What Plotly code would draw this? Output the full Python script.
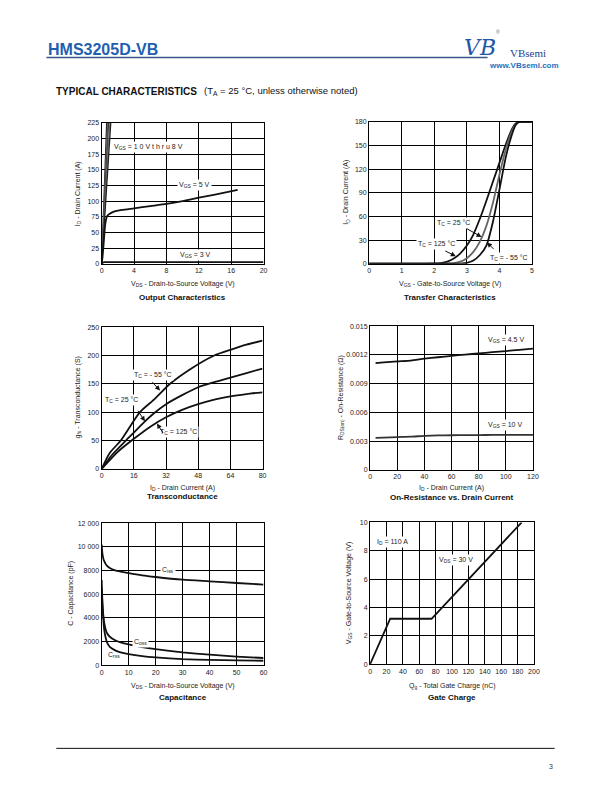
import plotly.graph_objects as go

W, H = 612, 792

# ---------------- data ----------------
# Output characteristics
out_steep_end_vds = [0.62, 0.74, 0.86, 0.98, 1.12]   # VGS = 10 V thru 8 V (reach 225 A)
out_steep_top = 225
out_vds5 = [0, 0.1, 0.2, 0.3, 0.4, 0.5, 0.6, 0.8, 1.0, 1.3, 1.7, 2.5, 4, 6, 8, 10, 12, 14, 16.8]
out_id5 = [0, 10, 25, 42, 58, 68, 74, 78, 80, 82, 84, 86, 88.5, 92, 95.5, 100, 105.5, 110.5, 118]
out_vds3 = [0, 0.3, 20]
out_id3 = [0, 2.5, 2.5]

# Transfer characteristics
tr_vgs = [0, 1, 2, 2.2, 2.4, 2.6, 2.8, 3.0, 3.2, 3.4, 3.6, 3.8, 4.0, 4.2, 4.4, 4.5, 4.6, 4.7, 5]
tr_125 = [0, 0, 0.3, 0.8, 2.5, 6.5, 13, 23, 37, 57, 80, 104, 128, 152, 172, 178, 180, 180, 180]
tr_25 = [0, 0, 0, 0.1, 0.3, 0.8, 2.5, 7, 15, 28, 48, 77, 113, 146, 170, 177, 180, 180, 180]
tr_m55 = [0, 0, 0, 0, 0, 0.05, 0.2, 1, 4, 11, 23, 53, 94, 136, 166, 176, 180, 180, 180]

# Transconductance
gfs_id_m55 = [0, 4, 9.5, 19, 26, 34, 45, 56, 64, 72, 80]
gfs_m55 = [0, 28, 50, 100, 122, 150, 178, 200, 210, 219, 226]
gfs_id_25 = [0, 5, 12, 16, 21, 26, 32, 40, 48, 56, 64, 72, 80]
gfs_25 = [0, 24, 50, 64, 82, 98, 114, 130, 144, 153, 161, 169, 177]
gfs_id_125 = [0, 8, 16, 24, 32, 40, 48, 56, 64, 72, 80]
gfs_125 = [0, 30, 53, 74, 91, 104, 114, 122, 128, 132, 135]

# On-resistance vs drain current
ron_id = [4, 10, 20, 30, 40, 50, 60, 70, 80, 90, 100, 110, 120]
ron_45 = [0.01114, 0.01122, 0.01132, 0.01140, 0.01160, 0.01175, 0.01190,
          0.01203, 0.01215, 0.01228, 0.01240, 0.01253, 0.01266]
ron_10 = [0.00334, 0.00337, 0.00342, 0.00346, 0.00355, 0.00359, 0.00361,
          0.00362, 0.00363, 0.00364, 0.00365, 0.00366, 0.00366]

# Capacitance
cap_vds = [0, 0.3, 0.7, 1, 1.5, 2, 3, 5, 7, 10, 15, 20, 30, 40, 50, 60]
cap_ciss = [10200, 9400, 8950, 8780, 8550, 8400, 8220, 8020, 7920, 7790, 7600, 7460, 7230, 7090, 6950, 6820]
cap_coss = [7200, 5200, 4000, 3500, 3000, 2700, 2400, 2100, 1930, 1750, 1520, 1350, 1080, 880, 720, 600]
cap_crss = [6500, 5000, 3600, 2900, 2300, 1900, 1550, 1250, 1080, 930, 760, 650, 510, 440, 400, 370]

# Gate charge
gc_qg = [0, 24.5, 75, 185]
gc_vgs = [0, 3.2, 3.2, 10]

# tick labels
t1x = [0, 4, 8, 12, 16, 20]
t1y = [0, 25, 50, 75, 100, 125, 150, 175, 200, 225]
t2x = [0, 1, 2, 3, 4, 5]
t2y = [0, 30, 60, 90, 120, 150, 180]
t3x = [0, 16, 32, 48, 64, 80]
t3y = [0, 50, 100, 150, 200, 250]
t4x = [0, 20, 40, 60, 80, 100, 120]
t4y = [0, 0.003, 0.006, 0.009, 0.012, 0.015]
t4y_text = ["0", "0.003", "0.006", "0.009", "0.0012", "0.015"]
t5x = [0, 10, 20, 30, 40, 50, 60]
t5y = [0, 2000, 4000, 6000, 8000, 10000, 12000]
t5y_text = ["0", "2000", "4000", "6000", "8000", "10 000", "12 000"]
t6x = [0, 20, 40, 60, 80, 100, 120, 140, 160, 180, 200]
t6y = [0, 2, 4, 6, 8, 10]

# ---------------- helpers ----------------
def px(x, y):
    return x / W, 1 - y / H

FONT = "Liberation Sans, Arial, Helvetica, sans-serif"
TICK = dict(family=FONT, size=7, color="#222")
BLK = "#111"

# plot boxes in pixels (left, right, top, bottom)
boxes = [
    (101, 265, 120, 262),
    (372, 537, 119, 262),
    (101, 264, 326, 469),
    (373, 538, 325, 470),
    (101, 265, 524, 667),
    (373, 539, 523, 666),
]

fig = go.Figure()

def ax_name(i, kind):
    return kind if i == 1 else f"{kind}{i}"

def line(i, x, y, color=BLK, width=1.8, shape="spline"):
    fig.add_trace(go.Scatter(x=x, y=y, mode="lines", line=dict(color=color, width=width, shape=shape,
                                                                  smoothing=0.6),
                             xaxis=ax_name(i, "x"), yaxis=ax_name(i, "y"),
                             showlegend=False, hoverinfo="skip", cliponaxis=True))

# plot 1
for k, xe in enumerate(out_steep_end_vds):
    line(1, [0, xe], [0, out_steep_top], color=["#222", "#666", "#333", "#777", "#222"][k], width=1.3, shape="linear")
line(1, out_vds3, out_id3, width=1.6, shape="linear")
line(1, out_vds5, out_id5)
# plot 2
line(2, tr_vgs, tr_125)
line(2, tr_vgs, tr_25, color="#666")
line(2, tr_vgs, tr_m55)
# plot 3
line(3, gfs_id_m55, gfs_m55)
line(3, gfs_id_25, gfs_25)
line(3, gfs_id_125, gfs_125)
# plot 4
line(4, ron_id, ron_45)
line(4, ron_id, ron_10, color="#333")
# plot 5
line(5, cap_vds, cap_ciss)
line(5, cap_vds, cap_coss)
line(5, cap_vds, cap_crss)
# plot 6
line(6, gc_qg, gc_vgs, shape="linear")

ranges = [
    ((0, 20), (0, 225), t1x, t1y, None),
    ((0, 5), (0, 180), t2x, t2y, None),
    ((0, 80), (0, 250), t3x, t3y, None),
    ((0, 120), (0, 0.015), t4x, t4y, t4y_text),
    ((0, 60), (0, 12000), t5x, t5y, t5y_text),
    ((0, 200), (0, 10), t6x, t6y, None),
]

layout_axes = {}
for i, ((l, r, t, b), (xr, yr, xt, yt, ytt)) in enumerate(zip(boxes, ranges), start=1):
    common = dict(showgrid=True, gridcolor="#000", gridwidth=1, showline=True, linecolor="#000",
                  linewidth=1.3, mirror=True, ticks="", zeroline=False, tickfont=TICK, fixedrange=True)
    xa = dict(common, domain=[l / W, r / W], range=list(xr), tickvals=xt,
              anchor=ax_name(i, "y"))
    ya = dict(common, domain=[1 - b / H, 1 - t / H], range=list(yr), tickvals=yt,
              anchor=ax_name(i, "x"))
    if ytt:
        ya["ticktext"] = ytt
    layout_axes["xaxis" if i == 1 else f"xaxis{i}"] = xa
    layout_axes["yaxis" if i == 1 else f"yaxis{i}"] = ya

fig.update_layout(**layout_axes)

ann = []
def text(x, y, s, size=7, bold=False, color="#222", xanchor="center", angle=0, bg=None, family=FONT):
    px_, py_ = px(x, y)
    if bold:
        s = f"<b>{s}</b>"
    d = dict(x=px_, y=py_, xref="paper", yref="paper", text=s, showarrow=False,
             font=dict(family=family, size=size, color=color), xanchor=xanchor, yanchor="middle",
             textangle=angle)
    if bg:
        d.update(bgcolor=bg, borderpad=1)
    ann.append(d)

def arrow(i, x, y, ax, ay):
    ann.append(dict(x=x, y=y, xref=ax_name(i, "x"), yref=ax_name(i, "y"), text="", showarrow=True,
                    arrowhead=2, arrowsize=1.0, arrowwidth=1, arrowcolor="#111", ax=ax, ay=ay))

# axis titles & chart titles
text(183, 282, "V<sub>DS</sub> - Drain-to-Source Voltage (V)")
text(77, 191, "I<sub>D</sub> - Drain Current (A)", angle=-90)
text(183, 296, "Output Characteristics", size=8, bold=True, color="#111")

text(454, 282, "V<sub>GS</sub> - Gate-to-Source Voltage (V)")
text(349, 190, "I<sub>D</sub> - Drain Current (A)", angle=-90)
text(454, 296, "Transfer Characteristics", size=8, bold=True, color="#111")

text(183, 488, "I<sub>D</sub> - Drain Current (A)")
text(77, 397, "g<sub>fs</sub> - Transconductance (S)", angle=-90)
text(183, 497, "Transconductance", size=8, bold=True, color="#111")

text(455, 488, "I<sub>D</sub> - Drain Current (A)")
text(344, 397, "R<sub>DS(on)</sub> - On-Resistance (Ω)", angle=-90)
text(455, 498, "On-Resistance vs. Drain Current", size=8, bold=True, color="#111")

text(183, 688, "V<sub>DS</sub> - Drain-to-Source Voltage (V)")
text(70, 595, "C - Capacitance (pF)", angle=-90)
text(183, 700, "Capacitance", size=8, bold=True, color="#111")

text(456, 688, "Q<sub>g</sub> - Total Gate Charge (nC)")
text(351, 594, "V<sub>GS</sub> - Gate-to-Source Voltage (V)", angle=-90)
text(456, 700, "Gate Charge", size=8, bold=True, color="#111")

# curve labels
WB = "white"
text(148, 144, "V<sub>GS</sub> = 1 0 V t h r u 8 V", bg=WB)
text(195, 183, "V<sub>GS</sub> = 5 V", bg=WB)
text(196, 253, "V<sub>GS</sub> = 3 V", bg=WB)

text(457, 221, "T<sub>C</sub> = 25 °C", bg=WB)
text(440, 242, "T<sub>C</sub> = 125 °C", bg=WB)
text(514, 256, "T<sub>C</sub> = - 55 °C", bg=WB)
arrow(2, 3.45, 34, -16, -9)
arrow(2, 2.66, 9.5, -12, -6)
arrow(2, 3.62, 27, 8, 8)

text(153, 374, "T<sub>C</sub> = - 55 °C", bg=WB)
text(121, 400, "T<sub>C</sub> = 25 °C", bg=WB)
text(179, 432, "T<sub>C</sub> = 125 °C", bg=WB)
arrow(3, 29, 138, -9, -10)
arrow(3, 21.5, 84, -8, -12)
arrow(3, 27.5, 80, 7, 11)

text(511, 339, "V<sub>GS</sub> = 4.5 V", bg=WB)
text(510, 425, "V<sub>GS</sub> = 10 V", bg=WB)

text(168, 571, "C<sub>iss</sub>", bg=WB)
text(140, 644, "C<sub>oss</sub>", bg=WB)
text(113, 657, "C<sub>rss</sub>")

text(396, 543, "I<sub>D</sub> = 110 A", bg=WB)
text(460, 561, "V<sub>DS</sub> = 30 V", bg=WB)

# header
text(45, 46, "HMS3205D-VB", size=16, bold=True, color="#1f5fb0", xanchor="left",
     family="Liberation Sans Narrow, Arial Narrow, Liberation Sans, sans-serif")
text(484, 44, "<i>VB</i>", size=22, color="#1f56a8", family="DejaVu Serif, serif")
text(503, 28, "®", size=5, color="#666")
text(533, 49, "VBsemi", size=11, color="#1d3f8f", family="Liberation Serif, DejaVu Serif, serif")
text(529, 62, "www.VBsemi.com", size=8, bold=True, color="#1f6fc0",
     family="Liberation Sans Narrow, Liberation Sans, sans-serif")

text(53, 88, "<b>TYPICAL CHARACTERISTICS</b>", size=10, color="#111", xanchor="left")
text(203, 88, "(T<sub>A</sub> = 25 °C, unless otherwise noted)", size=9.5, color="#111", xanchor="left")

text(556, 769, "3", size=7, color="#333")

fig.update_layout(annotations=ann)

shapes = [
    dict(type="line", xref="paper", yref="paper", x0=45 / W, x1=492 / W, y0=1 - 54 / H, y1=1 - 54 / H,
         line=dict(color="#3a5a90", width=1.5)),
    dict(type="line", xref="paper", yref="paper", x0=55 / W, x1=560 / W, y0=1 - 751 / H, y1=1 - 751 / H,
         line=dict(color="#111", width=1)),
]
fig.update_layout(shapes=shapes)

fig.update_layout(width=W, height=H, margin=dict(l=0, r=0, t=0, b=0),
                  paper_bgcolor="white", plot_bgcolor="white", showlegend=False,
                  font=dict(family=FONT))

fig.write_html("out.html", config={"displayModeBar": False},
               post_script="document.body.style.margin='0';document.body.style.padding='0';")
